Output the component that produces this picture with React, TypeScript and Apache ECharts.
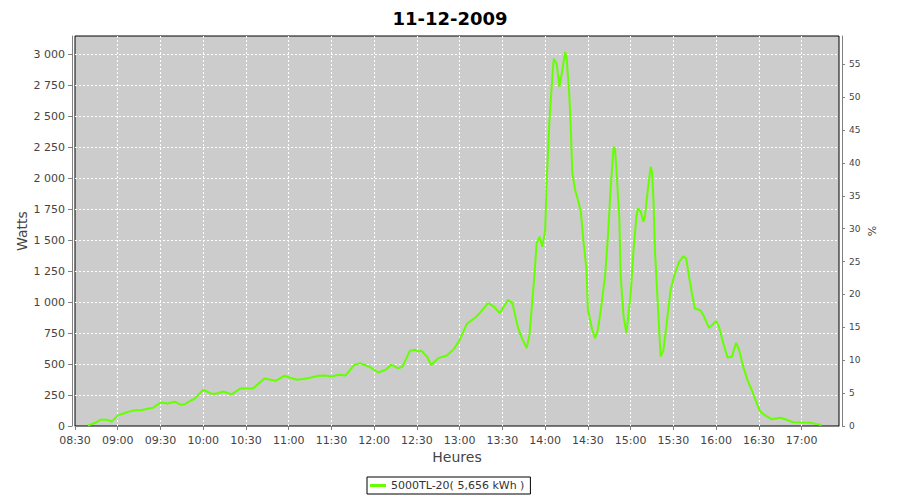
import React, { useEffect, useRef } from "react";
import * as echarts from "echarts";

const TITLE = "11-12-2009";
const SERIES_NAME = "5000TL-20( 5,656 kWh )";
const X_NAME = "Heures";
const Y_NAME = "Watts";
const Y2_NAME = "%";

const times: string[] = [
  "08:39", "08:44", "08:48", "08:52", "08:56", "09:00", "09:05", "09:11", "09:17", "09:21",
  "09:25", "09:30", "09:35", "09:40", "09:44", "09:47", "09:51", "09:54", "10:00", "10:06",
  "10:09", "10:14", "10:20", "10:26", "10:35", "10:43", "10:51", "10:57", "11:01", "11:06",
  "11:10", "11:15", "11:21", "11:25", "11:30", "11:35", "11:40", "11:46", "11:50", "11:56",
  "12:03", "12:08", "12:12", "12:17", "12:20", "12:25", "12:29", "12:31", "12:33", "12:37",
  "12:40", "12:45", "12:51", "12:56", "13:00", "13:05", "13:11", "13:14", "13:20", "13:24",
  "13:28", "13:34", "13:37", "13:41", "13:44", "13:47", "13:49", "13:52", "13:54", "13:56",
  "13:58", "14:00", "14:01", "14:03", "14:05", "14:06", "14:08", "14:10", "14:12", "14:14",
  "14:15", "14:17", "14:18", "14:19", "14:21", "14:23", "14:25", "14:27", "14:29", "14:30",
  "14:33", "14:35", "14:37", "14:39", "14:42", "14:44", "14:46", "14:48", "14:49", "14:50",
  "14:52", "14:53", "14:55", "14:57", "14:58", "15:00", "15:02", "15:04", "15:05", "15:07",
  "15:09", "15:10", "15:12", "15:14", "15:15", "15:16", "15:17", "15:18", "15:20", "15:21",
  "15:23", "15:25", "15:28", "15:31", "15:34", "15:37", "15:39", "15:41", "15:43", "15:45",
  "15:49", "15:51", "15:55", "15:57", "16:00", "16:02", "16:05", "16:08", "16:11", "16:14",
  "16:16", "16:19", "16:22", "16:25", "16:29", "16:31", "16:35", "16:39", "16:45", "16:50",
  "16:54", "17:00", "17:06", "17:11", "17:14",
];

const watts: number[] = [
  5, 24, 51, 51, 37, 86, 105, 126, 129, 140,
  148, 190, 182, 196, 172, 175, 204, 220, 293, 260,
  260, 279, 255, 303, 303, 384, 365, 406, 390, 373,
  379, 390, 406, 408, 400, 414, 408, 494, 508, 481,
  432, 454, 494, 465, 481, 607, 615, 601, 609, 561,
  494, 548, 570, 623, 696, 825, 876, 911, 992, 965,
  911, 1019, 992, 790, 700, 629, 740, 1153, 1476, 1529,
  1448, 1583, 1960, 2470, 2819, 2967, 2927, 2739, 2873, 3021,
  2981, 2658, 2390, 2050, 1906, 1825, 1731, 1476, 1260, 938,
  777, 710, 777, 938, 1206, 1529, 1932, 2255, 2242, 2067,
  1690, 1206, 884, 750, 857, 1073, 1422, 1690, 1758, 1731,
  1650, 1690, 1906, 2094, 2053, 1825, 1422, 1206, 777, 561,
  615, 803, 1099, 1231, 1325, 1371, 1352, 1204, 1070, 949,
  935, 895, 793, 814, 849, 801, 667, 554, 559, 672,
  618, 478, 371, 290, 169, 116, 81, 54, 67, 48,
  30, 28, 27, 15, 8,
];

const X_MIN = 510; // 08:30 in minutes
const X_MAX = 1046.2;
const Y_MAX = 3150;
const Y2_MAX = 59.3;

const toMin = (s: string) => {
  const [h, m] = s.split(":").map(Number);
  return h * 60 + m;
};
const fmtTime = (v: number) => {
  const h = Math.floor(v / 60);
  const m = Math.round(v % 60);
  return `${String(h).padStart(2, "0")}:${String(m).padStart(2, "0")}`;
};
const fmtThousands = (v: number) => String(v).replace(/\B(?=(\d{3})+(?!\d))/g, " ");

const FONT = "DejaVu Sans";
const LABEL_COLOR = "#444444";
const AXIS_COLOR = "#808080";

export default function App() {
  const ref = useRef<HTMLDivElement>(null);
  useEffect(() => {
    if (!ref.current) return;
    const chart = echarts.init(ref.current, undefined, { renderer: "svg" });
    const data = times.map((t, i) => [toMin(t), watts[i]]);
    chart.setOption({
      animation: false,
      backgroundColor: "#ffffff",
      textStyle: { fontFamily: FONT },
      title: {
        text: TITLE,
        left: "center",
        top: 4,
        textStyle: { fontFamily: FONT, fontSize: 18, fontWeight: "bold", color: "#000" },
      },
      legend: {
        data: [SERIES_NAME],
        left: 367,
        top: 477,
        icon: "rect",
        itemWidth: 16,
        itemHeight: 3,
        borderColor: "#000",
        borderWidth: 1,
        padding: [3, 6, 3, 3],
        textStyle: { fontFamily: FONT, fontSize: 11, color: "#333" },
      },
      grid: {
        left: 75,
        right: 61,
        top: 36,
        bottom: 74,
        show: true,
        backgroundColor: "#cccccc",
        borderColor: "#000000",
        borderWidth: 1,
      },
      xAxis: {
        type: "value",
        min: X_MIN,
        max: X_MAX,
        interval: 30,
        offset: 4,
        name: X_NAME,
        nameLocation: "middle",
        nameGap: 20,
        nameMoveOverlap: false,
        nameTextStyle: { fontFamily: FONT, fontSize: 14, color: LABEL_COLOR },
        axisLine: { show: true, lineStyle: { color: AXIS_COLOR } },
        axisTick: { show: true, length: 4, lineStyle: { color: AXIS_COLOR } },
        axisLabel: {
          formatter: (v: number) => fmtTime(v),
          fontSize: 11,
          color: LABEL_COLOR,
          margin: 5,
          showMaxLabel: false,
        },
        splitLine: {
          show: true,
          showMinLine: false,
          showMaxLine: false,
          lineStyle: { color: "#ffffff", type: [2, 2], width: 1 },
        },
      },
      yAxis: [
        {
          type: "value",
          min: 0,
          max: Y_MAX,
          interval: 250,
          offset: 3,
          name: Y_NAME,
          nameLocation: "middle",
          nameGap: 43,
          nameMoveOverlap: false,
          nameTextStyle: { fontFamily: FONT, fontSize: 14, color: LABEL_COLOR },
          axisLine: { show: true, lineStyle: { color: AXIS_COLOR } },
          axisTick: { show: true, length: 4, lineStyle: { color: AXIS_COLOR } },
          axisLabel: {
            formatter: (v: number) => fmtThousands(v),
            fontSize: 11,
            color: LABEL_COLOR,
            margin: 7,
            showMaxLabel: false,
          },
          splitLine: {
            show: true,
            showMinLine: false,
            showMaxLine: false,
            lineStyle: { color: "#ffffff", type: [2, 2], width: 1 },
          },
        },
        {
          type: "value",
          position: "right",
          min: 0,
          max: Y2_MAX,
          interval: 5,
          offset: 3,
          name: Y2_NAME,
          nameLocation: "middle",
          nameGap: 25,
          nameMoveOverlap: false,
          nameTextStyle: { fontFamily: FONT, fontSize: 11, color: LABEL_COLOR },
          axisLine: { show: true, lineStyle: { color: AXIS_COLOR } },
          axisTick: { show: true, length: 3, lineStyle: { color: AXIS_COLOR } },
          axisLabel: { fontSize: 9, color: LABEL_COLOR, margin: 7, showMaxLabel: false },
          splitLine: { show: false },
        },
      ],
      series: [
        {
          name: SERIES_NAME,
          type: "line",
          yAxisIndex: 0,
          data,
          symbol: "none",
          smooth: false,
          itemStyle: { color: "#66ff00" },
          lineStyle: { color: "#66ff00", width: 2 },
        },
      ],
    });
    return () => chart.dispose();
  }, []);
  return (
    <div
      ref={ref}
      style={{ position: "fixed", left: 0, top: 0, width: 900, height: 500 }}
    />
  );
}
